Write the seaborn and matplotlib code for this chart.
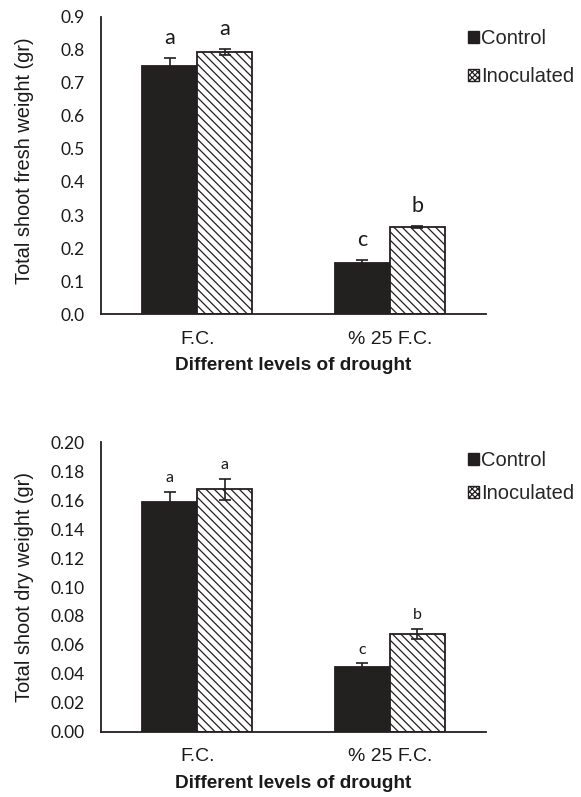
import numpy as np
import pandas as pd
import matplotlib
matplotlib.use("Agg")
import matplotlib.pyplot as plt
from matplotlib.patches import Patch
import seaborn as sns

# Dados
niveis = ["F.C.", "% 25 F.C."]
tratamentos = ["Control", "Inoculated"]

fresco_controle = [0.751, 0.156]
fresco_inoculado = [0.794, 0.265]
fresco_erro_controle = [0.024, 0.008]
fresco_erro_inoculado = [0.009, 0.003]
fresco_letras_controle = ["a", "c"]
fresco_letras_inoculado = ["a", "b"]

seco_controle = [0.159, 0.045]
seco_inoculado = [0.1675, 0.0675]
seco_erro_controle = [0.007, 0.0023]
seco_erro_inoculado = [0.0075, 0.0037]
seco_letras_controle = ["a", "c"]
seco_letras_inoculado = ["a", "b"]

sns.set_style("white")
plt.rcParams["font.family"] = ["Liberation Sans", "DejaVu Sans"]
plt.rcParams["hatch.linewidth"] = 0.9

cor_escura = "#231f20"
cor_texto = "#1a1a1a"


def grafico(ax, controle, inoculado, erro_c, erro_i, letras_c, letras_i,
            ylabel, yticks, fmt, ylim, pad_letra, tam_letra, ylabel_y, leg_y, leg_esp):
    df = pd.DataFrame({
        "nivel": niveis * 2,
        "trat": [tratamentos[0]] * len(niveis) + [tratamentos[1]] * len(niveis),
        "valor": list(controle) + list(inoculado),
    })
    sns.barplot(data=df, x="nivel", y="valor", hue="trat", order=niveis,
                hue_order=tratamentos, palette=[cor_escura, "white"],
                width=0.57, gap=0, errorbar=None, legend=False,
                edgecolor=cor_escura, linewidth=1.3, ax=ax)

    erros = list(erro_c) + list(erro_i)
    letras = list(letras_c) + list(letras_i)
    xs, ys = [], []
    for p in ax.patches:
        fc = p.get_facecolor()
        if fc[0] > 0.9:
            p.set_hatch("\\\\\\\\")
        xs.append(p.get_x() + p.get_width() / 2)
        ys.append(p.get_height())
    ax.errorbar(xs, ys, yerr=erros, fmt="none", ecolor=cor_escura,
                elinewidth=1.2, capsize=4, capthick=1.2, zorder=3)
    for x, y, e, l in zip(xs, ys, erros, letras):
        ax.annotate(l, (x, y + e), xytext=(0, pad_letra), textcoords="offset points",
                    ha="center", va="baseline", fontsize=tam_letra,
                    family=["Lato", "DejaVu Sans"], color=cor_texto)

    ax.set_ylim(*ylim)
    ax.set_yticks(yticks)
    ax.set_yticklabels([fmt % v for v in yticks], family=["Lato", "DejaVu Sans"])
    ax.set_xlim(-0.5, len(niveis) - 0.5)
    ax.set_xticks(np.arange(len(niveis) + 1) - 0.5, minor=True)
    ax.tick_params(axis="x", which="major", length=0, pad=12, labelsize=14, colors=cor_texto)
    ax.tick_params(axis="x", which="minor", length=5, width=1.2, direction="out", color=cor_escura)
    ax.tick_params(axis="y", length=5, width=1.2, direction="out", pad=7,
                   labelsize=12.5, colors=cor_texto)
    ax.tick_params(axis="y", color=cor_escura)
    sns.despine(ax=ax)
    for s in ["left", "bottom"]:
        ax.spines[s].set_color(cor_escura)
        ax.spines[s].set_linewidth(1.3)

    ax.set_ylabel(ylabel, fontsize=14.4, color=cor_texto)
    ax.yaxis.set_label_coords(-0.175, ylabel_y)
    ax.set_xlabel("Different levels of drought", fontsize=13.7, fontweight="bold",
                  color=cor_texto, labelpad=7)

    alcas = [Patch(facecolor=cor_escura, edgecolor=cor_escura, label=tratamentos[0]),
             Patch(facecolor="white", edgecolor=cor_escura, hatch="xxxxxx",
                   label=tratamentos[1])]
    fig = ax.figure
    ax.legend(handles=alcas, loc="upper left", bbox_to_anchor=(468 / 581, leg_y),
              bbox_transform=fig.transFigure, frameon=False, fontsize=14.5,
              handlelength=0.55, handleheight=0.55, handletextpad=0.12,
              labelspacing=leg_esp, borderpad=0, borderaxespad=0)


fig = plt.figure(figsize=(5.81, 7.97), dpi=100)
ax1 = fig.add_axes([0.1738, 0.606, 0.6627, 0.3727])
ax2 = fig.add_axes([0.1738, 0.0819, 0.6627, 0.3631])

grafico(ax1, fresco_controle, fresco_inoculado, fresco_erro_controle, fresco_erro_inoculado,
        fresco_letras_controle, fresco_letras_inoculado,
        "Total shoot fresh weight (gr)", np.round(np.arange(0, 0.91, 0.1), 1), "%.1f",
        (0, 0.9), 10, 15.5, 0.515, 1 - 29 / 797, 0.95)
grafico(ax2, seco_controle, seco_inoculado, seco_erro_controle, seco_erro_inoculado,
        seco_letras_controle, seco_letras_inoculado,
        "Total shoot dry weight (gr)", np.round(np.arange(0, 0.201, 0.02), 2), "%.2f",
        (0, 0.2), 7, 11.5, 0.5, 1 - 451 / 797, 0.7)

fig.savefig("out.png", dpi=100)
